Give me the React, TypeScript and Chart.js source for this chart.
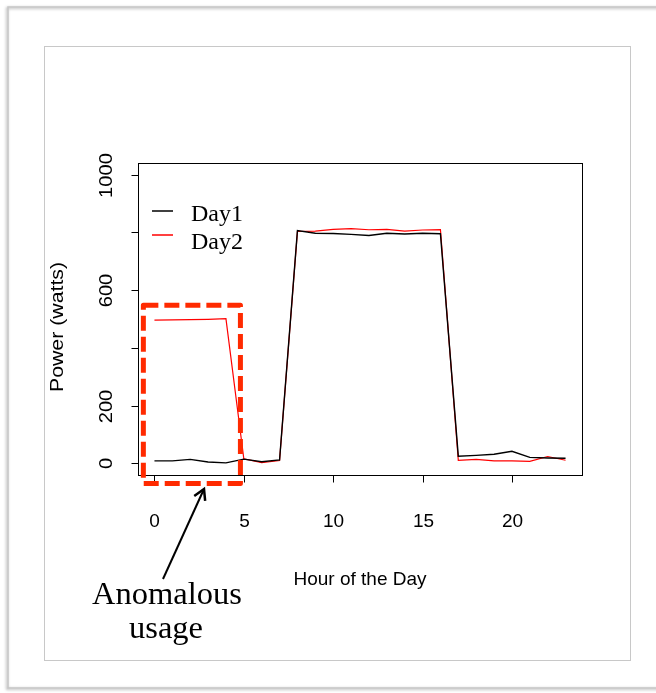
import React, { useEffect, useRef } from "react";
import { Chart, registerables } from "chart.js";

Chart.register(...registerables);

const hours = [0, 1, 2, 3, 4, 5, 6, 7, 8, 9, 10, 11, 12, 13, 14, 15, 16, 17, 18, 19, 20, 21, 22, 23];
const day1 = [9, 9, 14, 5, 2, 15, 6, 12, 806, 797, 796, 793, 789, 797, 794, 797, 795, 25, 28, 32, 42, 21, 19, 18];
const day2 = [496, 497, 498, 499, 501, 16, 3, 10, 803, 804, 810, 813, 809, 810, 804, 808, 809, 11, 14, 9, 9, 7, 24, 11];
const seriesNames = ["Day1", "Day2"];
const seriesColors = ["#000000", "#ff0000"];
const xTicks = [0, 5, 10, 15, 20];
const yTicks = [0, 200, 400, 600, 800, 1000];
const yTickLabels = ["0", "200", "", "600", "", "1000"];
const xTitle = "Hour of the Day";
const yTitle = "Power (watts)";
const annotationLines = ["Anomalous", "usage"];
// anomaly box in data units: [xFrom, xTo, yFrom, yTo]
const anomalyBox = [-0.62, 4.81, -69, 548];

const W = 656;
const H = 693;

const decor = {
  id: "decor",
  beforeDraw(chart: any) {
    const ctx = chart.ctx as CanvasRenderingContext2D;
    ctx.save();
    ctx.fillStyle = "#ffffff";
    ctx.fillRect(0, 0, W, H);
    ctx.shadowColor = "rgba(0,0,0,0.35)";
    ctx.shadowBlur = 3;
    ctx.shadowOffsetX = -1;
    ctx.shadowOffsetY = 1;
    ctx.strokeStyle = "#c6c6c6";
    ctx.lineWidth = 1.5;
    ctx.strokeRect(8, 7, 720, 681);
    ctx.shadowColor = "transparent";
    ctx.strokeStyle = "#c8c8c8";
    ctx.lineWidth = 1;
    ctx.strokeRect(44.5, 46.5, 586, 614);
    ctx.restore();
  },
  afterDraw(chart: any) {
    const ctx = chart.ctx as CanvasRenderingContext2D;
    const xs = chart.scales.x;
    const ys = chart.scales.y;
    const a = chart.chartArea;
    ctx.save();
    ctx.strokeStyle = "#000";
    ctx.lineWidth = 1;
    ctx.strokeRect(Math.round(a.left) + 0.5, Math.round(a.top) + 0.5, Math.round(a.right - a.left), Math.round(a.bottom - a.top));
    ctx.font = "19px 'Liberation Sans', Arial, sans-serif";
    ctx.fillStyle = "#000";
    ctx.textAlign = "center";
    ctx.textBaseline = "alphabetic";
    const by = Math.round(a.bottom) + 0.5;
    xTicks.forEach((t) => {
      const px = Math.round(xs.getPixelForValue(t)) + 0.5;
      ctx.beginPath();
      ctx.moveTo(px, by);
      ctx.lineTo(px, by + 7);
      ctx.stroke();
      ctx.fillText(String(t), px, 527);
    });
    const lx = Math.round(a.left) + 0.5;
    yTicks.forEach((t, i) => {
      const py = Math.round(ys.getPixelForValue(t)) + 0.5;
      ctx.beginPath();
      ctx.moveTo(lx, py);
      ctx.lineTo(lx - 7, py);
      ctx.stroke();
      const lab = yTickLabels[i];
      if (lab) {
        ctx.save();
        ctx.translate(111.5, py);
        ctx.rotate(-Math.PI / 2);
        ctx.scale(1.06, 1);
        ctx.textAlign = "center";
        ctx.textBaseline = "alphabetic";
        ctx.fillText(lab, 0, 0);
        ctx.restore();
      }
    });
    ctx.textAlign = "center";
    ctx.fillText(xTitle, (a.left + a.right) / 2, 585);
    ctx.save();
    ctx.translate(63, (a.top + a.bottom) / 2 + 8);
    ctx.rotate(-Math.PI / 2);
    ctx.scale(1.12, 1);
    ctx.fillText(yTitle, 0, 0);
    ctx.restore();
    const legLineY = [211, 235];
    const legTextY = [221, 249];
    ctx.font = "24px 'Liberation Serif', 'Times New Roman', serif";
    ctx.textAlign = "left";
    seriesNames.forEach((n, i) => {
      ctx.strokeStyle = seriesColors[i];
      ctx.lineWidth = 1.5;
      ctx.beginPath();
      ctx.moveTo(152, legLineY[i]);
      ctx.lineTo(173, legLineY[i]);
      ctx.stroke();
      ctx.fillStyle = "#000";
      ctx.fillText(n, 191, legTextY[i]);
    });
    const x0 = xs.getPixelForValue(anomalyBox[0]);
    const x1 = xs.getPixelForValue(anomalyBox[1]);
    const y0 = ys.getPixelForValue(anomalyBox[2]);
    const y1 = ys.getPixelForValue(anomalyBox[3]);
    ctx.strokeStyle = "#ff2a00";
    ctx.lineWidth = 5;
    ctx.lineJoin = "round";
    ctx.setLineDash([15, 6]);
    ctx.strokeRect(x0, y1, x1 - x0, y0 - y1);
    ctx.setLineDash([]);
    const tip = [204, 489];
    const tail = [163, 579];
    ctx.strokeStyle = "#000";
    ctx.lineWidth = 2;
    ctx.lineJoin = "miter";
    ctx.beginPath();
    ctx.moveTo(tail[0], tail[1]);
    ctx.lineTo(tip[0], tip[1]);
    ctx.stroke();
    const ang = Math.atan2(tip[1] - tail[1], tip[0] - tail[0]);
    const hl = 12;
    ctx.lineWidth = 2.5;
    ctx.beginPath();
    ctx.moveTo(tip[0] - hl * Math.cos(ang - Math.PI / 6), tip[1] - hl * Math.sin(ang - Math.PI / 6));
    ctx.lineTo(tip[0], tip[1]);
    ctx.lineTo(tip[0] - hl * Math.cos(ang + Math.PI / 6), tip[1] - hl * Math.sin(ang + Math.PI / 6));
    ctx.stroke();
    ctx.font = "32.5px 'Liberation Serif', 'Times New Roman', serif";
    ctx.textAlign = "center";
    ctx.fillStyle = "#000";
    ctx.fillText(annotationLines[0], 167, 604);
    ctx.fillText(annotationLines[1], 166, 638);
    ctx.restore();
  },
};

export default function App() {
  const ref = useRef<HTMLCanvasElement>(null);
  useEffect(() => {
    if (!ref.current) return;
    const chart = new Chart(ref.current, {
      type: "line",
      data: {
        datasets: [day1, day2].map((vals, i) => ({
          label: seriesNames[i],
          data: hours.map((h, j) => ({ x: h, y: vals[j] })),
          borderColor: seriesColors[i],
          borderWidth: i === 0 ? 1.4 : 1.2,
          pointRadius: 0,
          tension: 0,
          fill: false,
        })),
      },
      options: {
        animation: false,
        responsive: false,
        devicePixelRatio: 1,
        layout: { padding: { left: 138, top: 163, right: W - 582, bottom: H - 475 } },
        plugins: { legend: { display: false }, tooltip: { enabled: false }, title: { display: false } },
        scales: {
          x: { type: "linear", min: -0.92, max: 23.92, display: false },
          y: { type: "linear", min: -40, max: 1040, display: false },
        },
      },
      plugins: [decor],
    });
    return () => chart.destroy();
  }, []);
  return (
    <div style={{ position: "absolute", left: 0, top: 0, width: W, height: H }}>
      <canvas ref={ref} width={W} height={H} style={{ display: "block", width: W, height: H }} />
    </div>
  );
}
